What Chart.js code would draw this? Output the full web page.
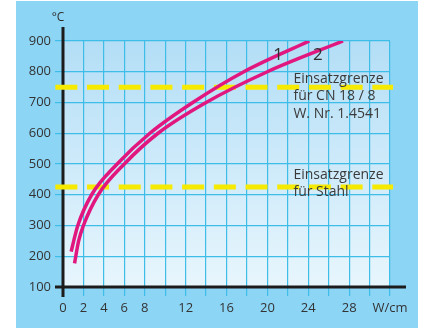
<!DOCTYPE html>
<html>
<head>
<meta charset="utf-8">
<script src="https://cdn.jsdelivr.net/npm/chart.js@4.4.1/dist/chart.umd.min.js"></script>
<style>
  html, body { margin: 0; padding: 0; background: #fff; overflow: hidden; }
  canvas { display: block; }
</style>
</head>
<body>
<canvas id="heat-chart" width="422" height="329"></canvas>
<script>
// surface load (W/cm) against temperature (°C)
const curve1Load = [0.8, 1.05, 1.45, 2.8, 5.3, 8.5, 12.7, 17.7, 24.1]
const curve1Temp = [215, 250, 300, 400, 500, 600, 700, 800, 900]
const curve2Load = [1.13, 1.53, 2.0, 3.45, 6.0, 9.3, 14.0, 20.0, 27.4]
const curve2Temp = [177, 250, 300, 400, 500, 600, 700, 800, 900]

// limits of use (dashed yellow lines)
const limitTemps = [750, 425]
const limitSpan = [-0.75, 32.3]

const xTickValues = [0, 2, 4, 6, 8, 12, 16, 20, 24, 28, 32]
const xTickLabels = ['0', '2', '4', '6', '8', '12', '16', '20', '24', '28', 'W/cm']
const curveNames = ['1', '2']
const limitNotes = [
  ['Einsatzgrenze', 'für CN 18 / 8', 'W. Nr. 1.4541'],
  ['Einsatzgrenze', 'für Stahl']
]
const yUnit = '°C'

const pink = '#e2167f'
const yellow = '#f6ea00'
const gridBlue = '#3dbde7'
const font = '"Open Sans", sans-serif'

const toPoints = (xs, ys) => xs.map((x, i) => ({ x, y: ys[i] }))

const curveStyle = {
  borderColor: pink,
  borderWidth: 3.5,
  borderCapStyle: 'butt',
  cubicInterpolationMode: 'monotone',
  pointRadius: 0,
  fill: false
}

const datasets = [
  { ...curveStyle, label: curveNames[0], data: toPoints(curve1Load, curve1Temp) },
  { ...curveStyle, label: curveNames[1], data: toPoints(curve2Load, curve2Temp) },
  ...limitTemps.map(t => ({
    label: 'limit ' + t,
    data: limitSpan.map(x => ({ x, y: t })),
    borderColor: yellow,
    borderWidth: 5,
    borderDash: [22, 9.7],
    borderCapStyle: 'butt',
    pointRadius: 0,
    clip: false,
    tension: 0
  }))
]

const panelBackground = {
  id: 'panelBackground',
  beforeDraw(chart) {
    const { ctx, chartArea: a } = chart
    ctx.save()
    ctx.fillStyle = '#fff'
    ctx.fillRect(0, 0, chart.width, chart.height)
    ctx.fillStyle = '#8dd5f5'
    ctx.fillRect(16, 1, 402, 327)
    const g = ctx.createLinearGradient(0, a.top, 0, a.bottom)
    g.addColorStop(0, '#b3def6')
    g.addColorStop(1, '#e8f6fd')
    ctx.fillStyle = g
    ctx.fillRect(a.left, a.top, a.right - a.left, a.bottom - a.top)
    ctx.restore()
  }
}

const axisLines = {
  id: 'axisLines',
  beforeDatasetsDraw(chart) {
    const { ctx, chartArea: a } = chart
    ctx.save()
    ctx.strokeStyle = '#1c1c1c'
    ctx.lineWidth = 3
    ctx.beginPath()
    ctx.moveTo(a.left, a.top - 14)
    ctx.lineTo(a.left, a.bottom + 10)
    ctx.moveTo(a.left - 8, a.bottom)
    ctx.lineTo(a.right + 16, a.bottom)
    ctx.stroke()
    ctx.restore()
  }
}

const chartTexts = {
  id: 'chartTexts',
  afterDatasetsDraw(chart) {
    const { ctx, chartArea: a } = chart
    const x = chart.scales.x
    const y = chart.scales.y
    ctx.save()
    ctx.fillStyle = '#2e2e2e'
    ctx.textBaseline = 'middle'
    ctx.textAlign = 'center'
    ctx.font = '12px ' + font
    ctx.fillText(yUnit, a.left - 5, a.top - 23)

    ctx.textBaseline = 'alphabetic'
    ctx.font = '17px ' + font
    ctx.fillText(curveNames[0], x.getPixelForValue(21.05), y.getPixelForValue(839))
    ctx.fillText(curveNames[1], x.getPixelForValue(24.95), y.getPixelForValue(839))

    ctx.fillStyle = '#3a3a3a'
    ctx.textAlign = 'left'
    ctx.font = '14px ' + font
    const noteTops = [764, 452]
    limitNotes.forEach((lines, n) => {
      const left = x.getPixelForValue(22.55)
      const top = y.getPixelForValue(noteTops[n])
      lines.forEach((line, i) => ctx.fillText(line, left, top + i * 17.5))
    })
    ctx.restore()
  }
}

const ctx = document.getElementById('heat-chart').getContext('2d')

const myChart = new Chart(ctx, {
  type: 'line',
  data: { datasets },
  options: {
    responsive: false,
    animation: false,
    devicePixelRatio: 1,
    layout: { padding: { left: 0, top: 41, right: 32, bottom: 0 } },
    plugins: {
      legend: { display: false },
      tooltip: { enabled: false }
    },
    scales: {
      x: {
        type: 'linear',
        min: 0,
        max: 32,
        afterBuildTicks: scale => {
          const ticks = []
          for (let v = 0; v <= 32; v += 2) ticks.push({ value: v })
          scale.ticks = ticks
        },
        afterFit: scale => { scale.height = 42 },
        border: { display: false },
        grid: { color: gridBlue, lineWidth: 1.2, tickLength: 9 },
        ticks: {
          autoSkip: false,
          maxRotation: 0,
          padding: 4,
          color: '#333',
          font: { family: font, size: 13 }
        ,
          callback: v => {
            const i = xTickValues.indexOf(v)
            return i >= 0 ? xTickLabels[i] : ''
          }
        }
      },
      y: {
        type: 'linear',
        min: 100,
        max: 900,
        afterFit: scale => { scale.width = 63 },
        border: { display: false },
        grid: { color: gridBlue, lineWidth: 1.2, tickLength: 8 },
        ticks: {
          stepSize: 100,
          padding: 4,
          color: '#333',
          font: { family: font, size: 13 }
        }
      }
    }
  },
  plugins: [panelBackground, axisLines, chartTexts]
})
</script>
</body>
</html>
